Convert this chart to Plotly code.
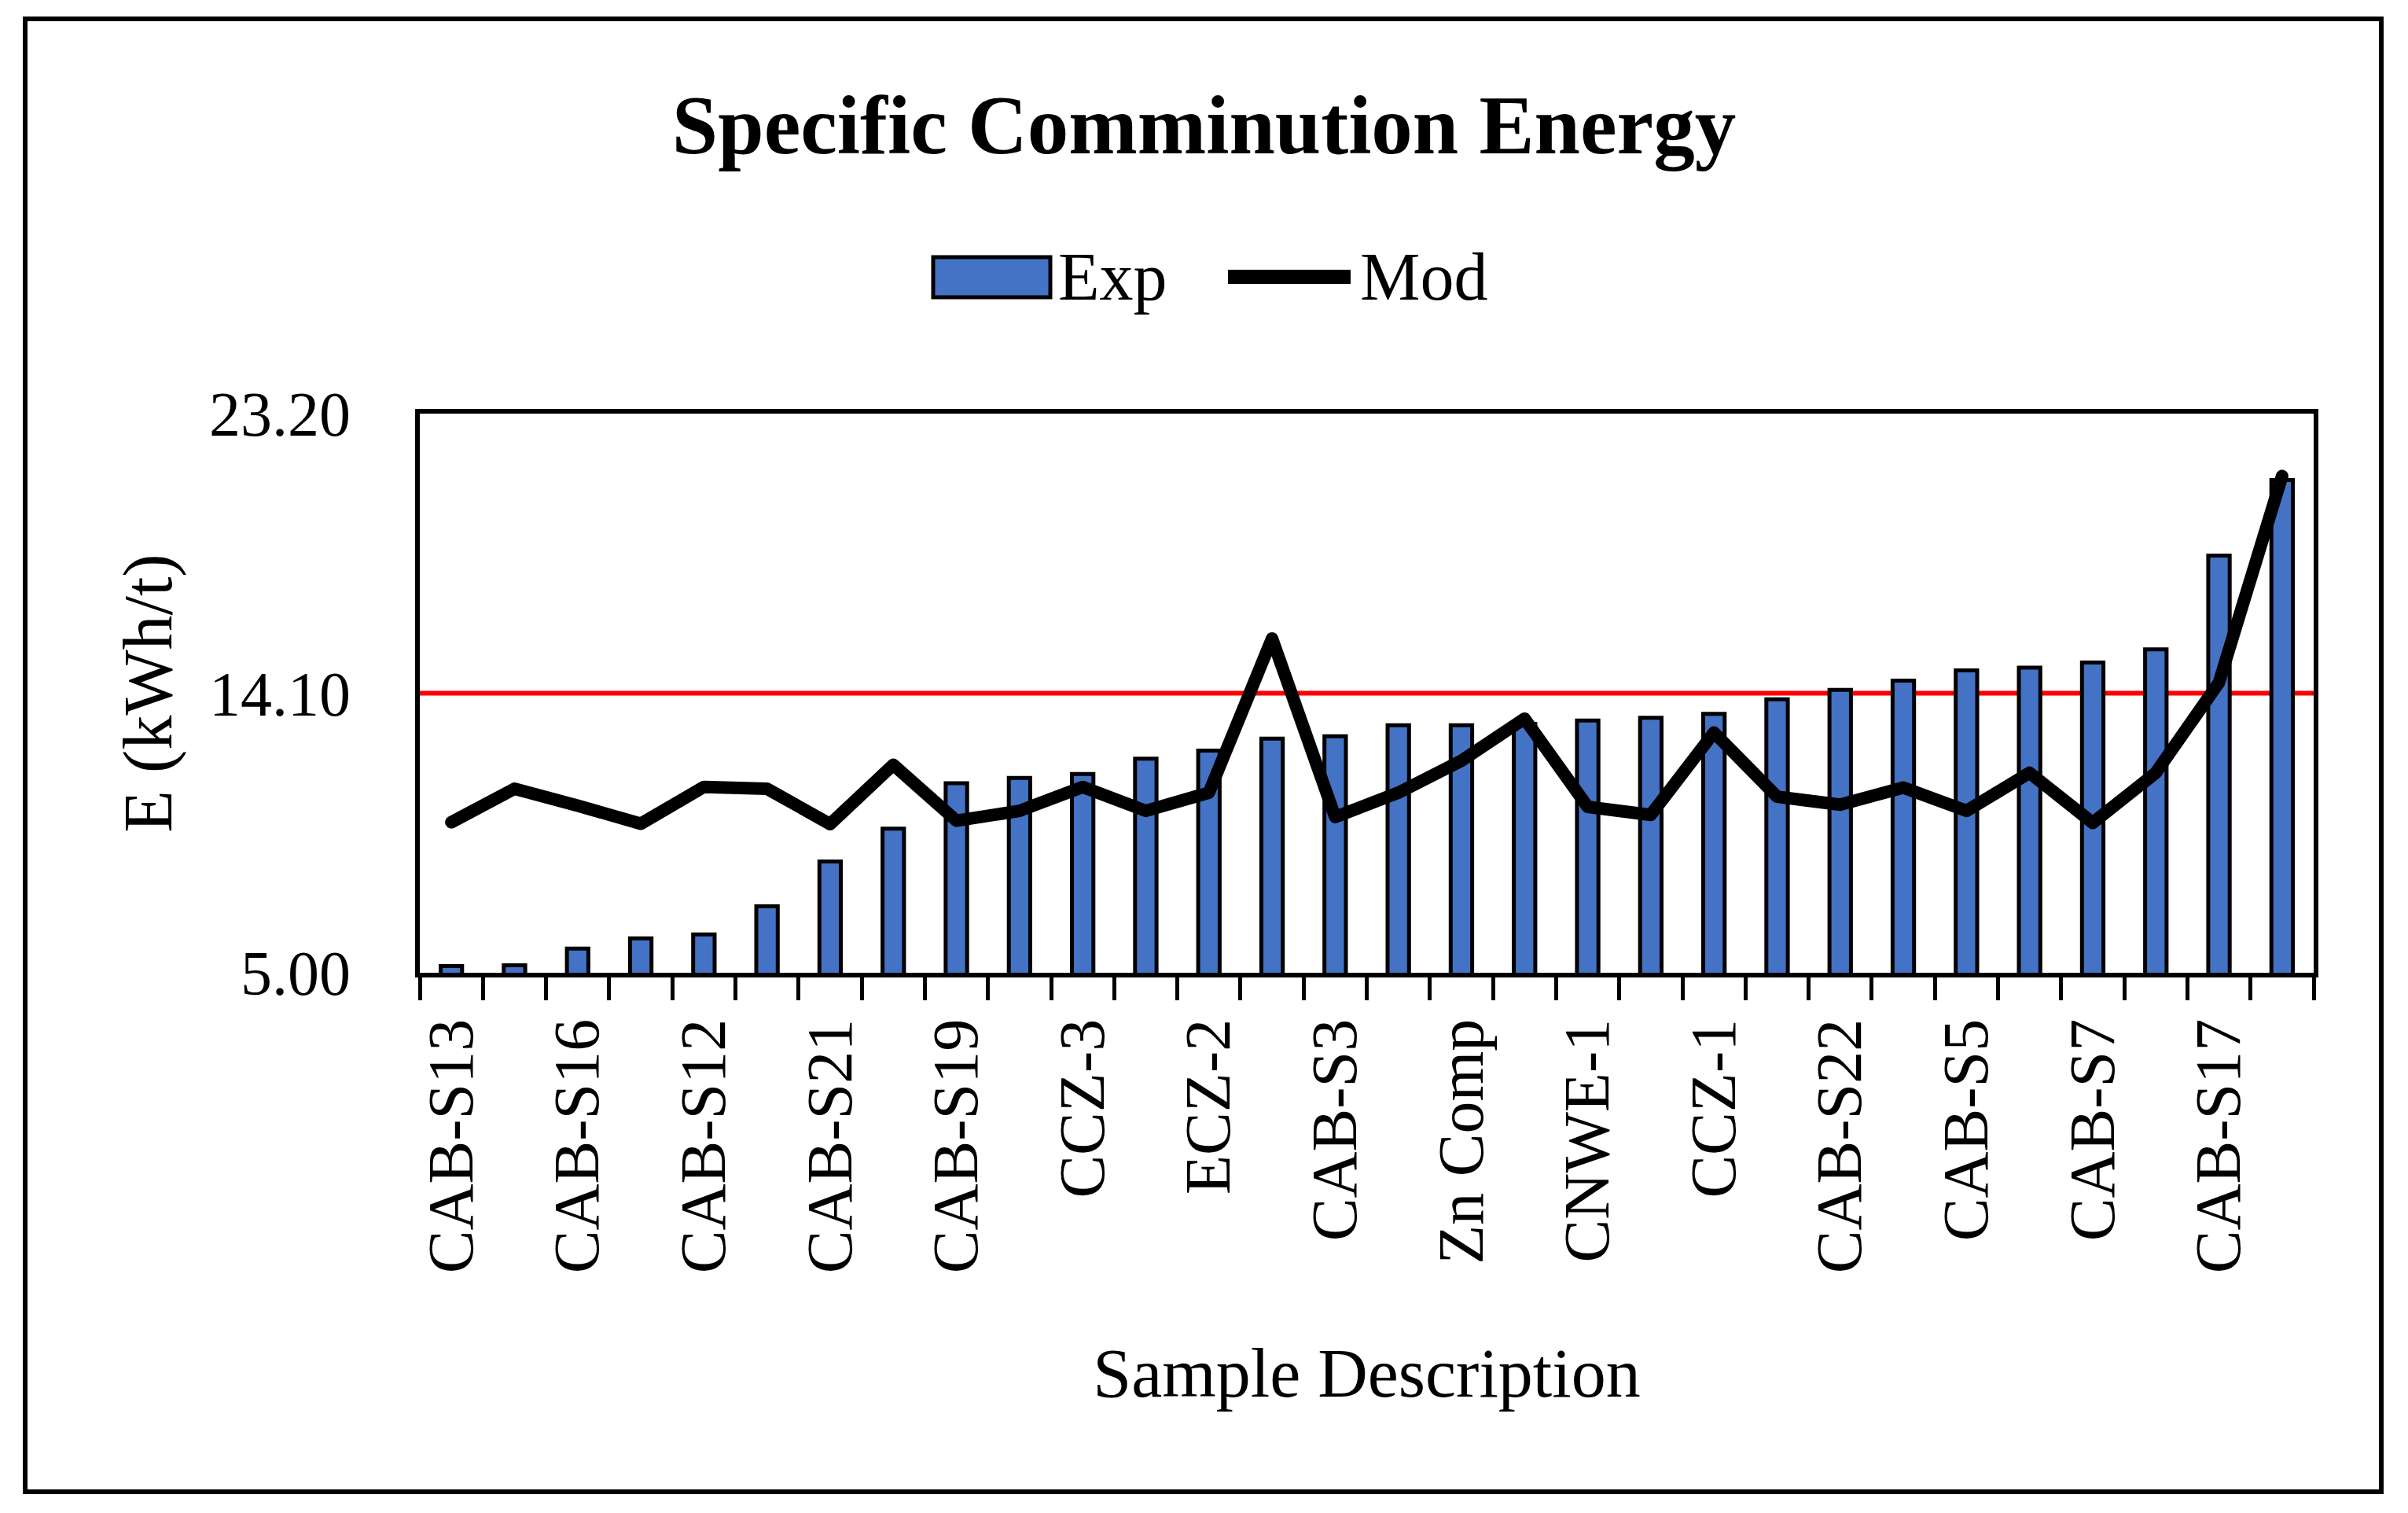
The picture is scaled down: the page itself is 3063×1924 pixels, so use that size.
import plotly.graph_objects as go

# ---------------- data ----------------
tick_labels = ["CAB-S13", "CAB-S16", "CAB-S12", "CAB-S21", "CAB-S19", "CCZ-3", "ECZ-2",
               "CAB-S3", "Zn Comp", "CNWE-1", "CCZ-1", "CAB-S22", "CAB-S5", "CAB-S7", "CAB-S17"]
sample_index = list(range(1, 31))
exp_values = [5.22, 5.24, 5.79, 6.12, 6.25, 7.16, 8.62, 9.69, 11.17, 11.34,
              11.47, 11.97, 12.23, 12.62, 12.70, 13.06, 13.06, 13.10, 13.21, 13.30,
              13.43, 13.90, 14.21, 14.51, 14.84, 14.93, 15.10, 15.53, 18.58, 21.04]
mod_values = [9.90, 10.99, 10.44, 9.85, 11.05, 10.99, 9.84, 11.77, 9.95, 10.27,
              11.05, 10.27, 10.86, 15.88, 10.07, 10.86, 11.90, 13.27, 10.40, 10.14,
              12.82, 10.73, 10.47, 11.03, 10.27, 11.51, 9.88, 11.51, 14.45, 21.17]
y_ticks = [5.00, 14.10, 23.20]
threshold = 14.10

# ---------------- layout geometry (pixels) ----------------
W, H = 3063, 1924
L, R, T, B = 534, 2943, 526, 1237
FONT = "Liberation Serif"


def px(x):
    return (x - L) / (R - L)


def py(y):
    return (B - y) / (B - T)


fig = go.Figure()
fig.add_trace(go.Bar(
    x=sample_index, y=exp_values, name="Exp", width=0.34,
    marker=dict(color="#4472C4", line=dict(color="black", width=5)),
    showlegend=False,
))
fig.add_trace(go.Scatter(
    x=sample_index, y=mod_values, name="Mod", mode="lines",
    line=dict(color="black", width=16), showlegend=False,
))

shapes = [
    # threshold line
    dict(type="line", xref="paper", yref="y", x0=0, x1=1, y0=threshold, y1=threshold,
         line=dict(color="#FF0000", width=6), layer="below"),
    # outer chart border
    dict(type="rect", xref="paper", yref="paper", x0=px(32), x1=px(3029), y0=py(1897), y1=py(24),
         line=dict(color="black", width=6), fillcolor="rgba(0,0,0,0)"),
    # legend keys
    dict(type="rect", xref="paper", yref="paper", x0=px(1187), x1=px(1336), y0=py(378), y1=py(327),
         line=dict(color="black", width=5), fillcolor="#4472C4"),
    dict(type="line", xref="paper", yref="paper", x0=px(1562), x1=px(1718), y0=py(352), y1=py(352),
         line=dict(color="black", width=18)),
]

annotations = [
    dict(text="Exp", xref="paper", yref="paper", x=px(1344), y=py(352), xanchor="left", yanchor="middle",
         showarrow=False, font=dict(family=FONT, size=86, color="black")),
    dict(text="Mod", xref="paper", yref="paper", x=px(1728), y=py(352), xanchor="left", yanchor="middle",
         showarrow=False, font=dict(family=FONT, size=86, color="black")),
]

fig.update_layout(
    width=W, height=H,
    margin=dict(l=L, r=W - R, t=T, b=H - B, pad=0),
    paper_bgcolor="white", plot_bgcolor="white",
    title=dict(text="<b>Specific Comminution Energy</b>", xref="container", x=0.5, xanchor="center",
               yref="container", y=1 - 158 / H, yanchor="middle",
               font=dict(family=FONT, size=105, color="black")),
    shapes=shapes, annotations=annotations,
    xaxis=dict(
        range=[0.5, 30.5], tickmode="array", tickvals=sample_index[::2], ticktext=tick_labels,
        tickangle=-90, ticks="outside", ticklen=20, tickcolor="rgba(0,0,0,0)",
        tickfont=dict(family=FONT, size=82, color="black"),
        showline=True, linecolor="black", linewidth=6, mirror=True,
        showgrid=False, zeroline=False, automargin=False,
        minor=dict(tickmode="array", tickvals=[i + 0.5 for i in range(0, 31)], ticks="outside",
                   ticklen=29, tickwidth=5, tickcolor="black", showgrid=False),
        title=dict(text="Sample Description", font=dict(family=FONT, size=88, color="black"), standoff=98),
    ),
    yaxis=dict(
        range=[5, 23.2], tickmode="array", tickvals=y_ticks, tickformat=".2f", ticks="",
        ticklabelstandoff=66,
        tickfont=dict(family=FONT, size=80, color="black"),
        showline=True, linecolor="black", linewidth=6, mirror=True,
        showgrid=False, zeroline=False, automargin=False,
        title=dict(text="E (kWh/t)", font=dict(family=FONT, size=88, color="black"), standoff=20),
    ),
)

post = """
document.body.style.margin = '0px';
document.querySelectorAll('.scatterlayer .js-line').forEach(function(p){
  p.style.strokeLinecap = 'round'; p.style.strokeLinejoin = 'round';
});
"""

fig.write_html("out.html", post_script=post, config={"displayModeBar": False})
